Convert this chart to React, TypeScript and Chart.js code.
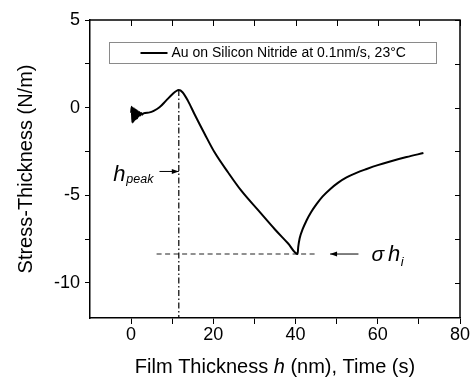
import React, { useEffect, useRef } from 'react';
import { Chart, registerables } from 'chart.js';

Chart.register(...registerables);

// ---- data ----
const filmThickness = [
  0, 0.15, 0.3, 0.45, 0.6, 0.75, 0.9, 1.05, 1.2, 1.35, 1.5, 1.65, 1.8, 2.0, 2.2, 2.4, 2.7, 3.0,
  4.5, 5.5, 6.9, 8.5, 10.1, 11.0, 11.6, 12.5, 13.8, 15.4, 17.9, 20.3, 23.6, 26.8, 30.9, 35.0, 38.2,
  40.5, 40.65, 41.0, 41.7, 42.7, 43.8, 45.1, 46.6, 48.4, 50.3, 52.4, 54.8, 57.3, 60.0, 63.0, 67.0, 71.1,
];
const stressThickness = [
  -0.3, 0.05, -0.85, 0.0, -0.8, -0.05, -0.7, -0.1, -0.65, -0.15, -0.6, -0.2, -0.5, -0.25, -0.45, -0.3, -0.4, -0.33,
  -0.27, -0.18, 0.02, 0.4, 0.78, 0.95, 1.0, 0.88, 0.4, -0.36, -1.5, -2.55, -3.7, -4.74, -5.85, -6.95, -7.75,
  -8.35, -7.95, -7.45, -6.95, -6.42, -5.95, -5.5, -5.06, -4.65, -4.29, -3.98, -3.72, -3.5, -3.28, -3.07, -2.82, -2.59,
];
const seriesLabel = 'Au on Silicon Nitride at 0.1nm/s, 23\u00B0C';
const xTickLabels = [0, 20, 40, 60, 80];
const yTickLabels = [-10, -5, 0, 5];

// annotation values (data units)
const hPeak = 11.6;
const peakStress = 1.0;
const sigmaHi = -8.35;
const sigmaLineFrom = 6.2;
const sigmaLineTo = 45.1;
const hPeakArrowY = -3.64;
const hPeakArrowFrom = 6.9;
const sigmaArrowFrom = 55.3;
const sigmaArrowTo = 48.4;
const sigmaTextX = 58.5;

const FONT = "'Liberation Sans', Arial, sans-serif";

function arrow(ctx: CanvasRenderingContext2D, x1: number, y1: number, x2: number, y2: number) {
  ctx.beginPath();
  ctx.moveTo(x1, y1);
  ctx.lineTo(x2, y2);
  ctx.stroke();
  const dir = Math.sign(x2 - x1);
  ctx.beginPath();
  ctx.moveTo(x2, y2);
  ctx.lineTo(x2 - dir * 7, y2 - 2.5);
  ctx.lineTo(x2 - dir * 7, y2 + 2.5);
  ctx.closePath();
  ctx.fill();
}

const overlayPlugin = {
  id: 'overlay',
  afterDraw(chart: any) {
    const { ctx, chartArea: a } = chart;
    const xs = chart.scales.x;
    const ys = chart.scales.y;
    ctx.save();
    ctx.strokeStyle = '#000';
    ctx.fillStyle = '#000';
    // top and right frame
    ctx.lineWidth = 1.5;
    ctx.beginPath();
    ctx.moveTo(a.left, a.top);
    ctx.lineTo(a.right, a.top);
    ctx.lineTo(a.right, a.bottom);
    ctx.stroke();
    // inward mirror ticks
    ctx.lineWidth = 1;
    ctx.beginPath();
    xs.ticks.forEach((t: any) => {
      const px = Math.round(xs.getPixelForValue(t.value)) + 0.5;
      ctx.moveTo(px, a.top);
      ctx.lineTo(px, a.top + 6);
    });
    ys.ticks.forEach((t: any) => {
      const py = Math.round(ys.getPixelForValue(t.value)) + 0.5;
      ctx.moveTo(a.right, py);
      ctx.lineTo(a.right - 5, py);
    });
    ctx.stroke();

    // legend box
    const lx = a.left + 19.5;
    const ly = a.top + 22.5;
    const lw = 327;
    const lh = 21;
    ctx.strokeStyle = '#8a8a8a';
    ctx.lineWidth = 1;
    ctx.strokeRect(lx, ly, lw, lh);
    ctx.strokeStyle = '#000';
    ctx.lineWidth = 2;
    ctx.beginPath();
    ctx.moveTo(lx + 31, ly + lh / 2);
    ctx.lineTo(lx + 58, ly + lh / 2);
    ctx.stroke();
    ctx.font = `14px ${FONT}`;
    ctx.textBaseline = 'middle';
    ctx.textAlign = 'left';
    ctx.fillText(chart.data.datasets[0].label, lx + 62, ly + lh / 2 + 0.5);

    // x-axis title with italic h
    const parts: [string, string][] = [
      ['Film Thickness ', `20px ${FONT}`],
      ['h', `italic 20px ${FONT}`],
      [' (nm), Time (s)', `20px ${FONT}`],
    ];
    let total = 0;
    parts.forEach(([t, f]) => { ctx.font = f; total += ctx.measureText(t).width; });
    let tx = (a.left + a.right) / 2 - total / 2;
    ctx.textBaseline = 'alphabetic';
    parts.forEach(([t, f]) => { ctx.font = f; ctx.fillText(t, tx, 373); tx += ctx.measureText(t).width; });

    // h_peak arrow and label
    ctx.lineWidth = 1;
    const ay = ys.getPixelForValue(hPeakArrowY);
    const ax1 = xs.getPixelForValue(hPeakArrowFrom);
    const ax2 = xs.getPixelForValue(hPeak);
    arrow(ctx, ax1, ay, ax2, ay);
    ctx.font = `italic 12.5px ${FONT}`;
    const wPeak = ctx.measureText('peak').width;
    ctx.font = `italic 22px ${FONT}`;
    const wH = ctx.measureText('h').width;
    const hx = ax1 - 6 - wPeak - 1 - wH;
    ctx.fillText('h', hx, ay + 9.5);
    ctx.font = `italic 12.5px ${FONT}`;
    ctx.fillText('peak', hx + wH + 1, ay + 12);

    // sigma h_i arrow and label
    const sy = ys.getPixelForValue(sigmaHi);
    arrow(ctx, xs.getPixelForValue(sigmaArrowFrom), sy, xs.getPixelForValue(sigmaArrowTo), sy);
    let sx = xs.getPixelForValue(sigmaTextX);
    ctx.font = `italic 21px ${FONT}`;
    ctx.fillText('\u03C3', sx, sy + 7);
    sx += ctx.measureText('\u03C3 ').width - 2;
    ctx.font = `italic 22px ${FONT}`;
    ctx.fillText('h', sx, sy + 7);
    sx += ctx.measureText('h').width + 0.5;
    ctx.font = `italic 13px ${FONT}`;
    ctx.fillText('i', sx, sy + 12);
    ctx.restore();
  },
};

export default function App() {
  const ref = useRef<HTMLCanvasElement | null>(null);
  useEffect(() => {
    if (!ref.current) return;
    Chart.defaults.font.family = FONT;
    const chart = new Chart(ref.current, {
      type: 'line',
      data: {
        datasets: [
          {
            label: seriesLabel,
            data: filmThickness.map((x, i) => ({ x, y: stressThickness[i] })),
            borderColor: '#000',
            borderWidth: 2,
            pointRadius: 0,
            cubicInterpolationMode: 'monotone',
            fill: false,
          },
          {
            label: 'h_peak',
            data: [{ x: hPeak, y: peakStress }, { x: hPeak, y: -12 }],
            borderColor: '#000',
            borderWidth: 1.2,
            borderDash: [6, 2.5, 1.5, 2.5],
            pointRadius: 0,
            fill: false,
          },
          {
            label: 'sigma h_i',
            data: [{ x: sigmaLineFrom, y: sigmaHi }, { x: sigmaLineTo, y: sigmaHi }],
            borderColor: '#222',
            borderWidth: 1.2,
            borderDash: [5, 3.5],
            pointRadius: 0,
            fill: false,
          },
        ],
      },
      options: {
        animation: false,
        responsive: false,
        devicePixelRatio: 1,
        layout: { padding: { top: 20, right: 11, left: 0, bottom: 0 } },
        plugins: { legend: { display: false }, tooltip: { enabled: false } },
        scales: {
          x: {
            type: 'linear',
            min: -10,
            max: 80,
            afterBuildTicks: (s: any) => { s.ticks = s.ticks.filter((t: any) => t.value > -10); },
            afterFit: (s: any) => { s.height = 59; },
            ticks: {
              stepSize: 10,
              autoSkip: false,
              maxRotation: 0,
              padding: 0,
              color: '#000',
              font: { size: 18, family: FONT },
              callback: (v: any) => (xTickLabels.includes(Number(v)) ? String(v) : ''),
            },
            grid: { drawOnChartArea: false, tickLength: 6, color: '#000', tickWidth: 1 },
            border: { color: '#000', width: 1.5 },
          },
          y: {
            type: 'linear',
            min: -12,
            max: 5,
            afterBuildTicks: (s: any) => { s.ticks = s.ticks.filter((t: any) => t.value > -12); },
            afterFit: (s: any) => { s.width = 90; },
            ticks: {
              stepSize: 2.5,
              autoSkip: false,
              padding: 5,
              color: '#000',
              font: { size: 18, family: FONT },
              callback: (v: any) => (yTickLabels.includes(Number(v)) ? String(v) : ''),
            },
            grid: { drawOnChartArea: false, tickLength: 5, color: '#000', tickWidth: 1 },
            border: { color: '#000', width: 1.5 },
            title: {
              display: true,
              text: 'Stress-Thickness (N/m)',
              color: '#000',
              font: { size: 20, family: FONT },
              padding: { top: 14, bottom: 0 },
            },
          },
        },
      },
      plugins: [overlayPlugin],
    } as any);
    return () => chart.destroy();
  }, []);
  return (
    <div style={{ position: 'fixed', left: 0, top: 0, width: 471, height: 377, background: '#fff' }}>
      <canvas ref={ref} width={471} height={377} style={{ display: 'block' }} />
    </div>
  );
}
